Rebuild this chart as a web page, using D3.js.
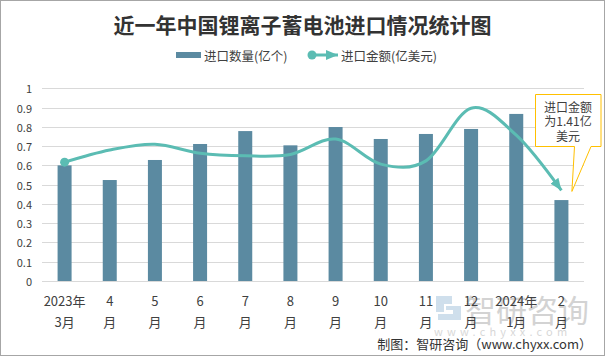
<!DOCTYPE html>
<html><head><meta charset="utf-8">
<script src="https://cdn.jsdelivr.net/npm/d3@7"></script>
<style>
html,body{margin:0;padding:0;background:#fff;}
svg{display:block;font-family:"Microsoft YaHei","Noto Sans CJK SC","Noto Sans",sans-serif;}
</style></head>
<body>
<svg id="c" width="605" height="356"></svg>
<script>
const categoriesTop = ["2023年","4","5","6","7","8","9","10","11","12","2024年","2"];
const categoriesBottom = ["3月","月","月","月","月","月","月","月","月","月","1月","月"];
const quantity = [0.60,0.524,0.628,0.711,0.778,0.704,0.799,0.737,0.763,0.789,0.867,0.42];
const amount = [1.85,2.04,2.13,1.99,1.95,1.97,2.21,1.82,1.87,2.69,2.27,1.41];
const yTicks = [0,0.1,0.2,0.3,0.4,0.5,0.6,0.7,0.8,0.9,1];
const yTickLabels = ["0","0.1","0.2","0.3","0.4","0.5","0.6","0.7","0.8","0.9","1"];
const legendLabels = ["进口数量(亿个)","进口金额(亿美元)"];
const calloutLines = ["进口金额","为1.41亿","美元"];
const title = "近一年中国锂离子蓄电池进口情况统计图";
const source = "制图：智研咨询（www.chyxx.com）";

const barColor = "#5b8aa1", lineColor = "#5bbcb3", textColor = "#404040", gridColor = "#d9d9d9";
const svg = d3.select("#c");
const idx = d3.range(categoriesTop.length);

const x = d3.scaleBand().domain(idx).range([42,584]).paddingInner(0.69).paddingOuter(0.345);
const y = d3.scaleLinear().domain([0,1]).range([281,88.3]);
const y2 = d3.scaleLinear().domain([0,3]).range([281,88.3]);

// border
svg.append("rect").attr("x",0.5).attr("y",0.5).attr("width",604).attr("height",355)
  .attr("fill","#fff").attr("stroke","#a6a6a6");

const defs = svg.append("defs");
defs.append("marker").attr("id","arr").attr("markerUnits","userSpaceOnUse")
  .attr("viewBox","0 0 12 10").attr("refX",12).attr("refY",5)
  .attr("markerWidth",12).attr("markerHeight",10).attr("orient","auto")
  .append("path").attr("d","M0,0 L12,5 L0,10 Z").attr("fill",lineColor);

// title
svg.append("text").attr("x",302.5).attr("y",24).attr("text-anchor","middle")
  .attr("dominant-baseline","central").attr("font-size",21).attr("font-weight","bold")
  .attr("fill","#333").text(title);

// legend
const lg = svg.append("g");
lg.append("rect").attr("x",176).attr("y",52).attr("width",25).attr("height",6).attr("fill",barColor);
lg.append("text").attr("x",204).attr("y",55).attr("dominant-baseline","central")
  .attr("font-size",12.5).attr("fill",textColor).text(legendLabels[0]);
lg.append("line").attr("x1",312).attr("x2",338).attr("y1",55).attr("y2",55)
  .attr("stroke",lineColor).attr("stroke-width",3).attr("marker-end","url(#arr)");
lg.append("circle").attr("cx",312).attr("cy",55).attr("r",4.5).attr("fill",lineColor);
lg.append("text").attr("x",341).attr("y",55).attr("dominant-baseline","central")
  .attr("font-size",12.5).attr("fill",textColor).text(legendLabels[1]);

// grid + y labels
const gy = svg.append("g");
gy.selectAll("line").data(yTicks).join("line")
  .attr("x1",42).attr("x2",584).attr("y1",d=>Math.round(y(d))+0.5).attr("y2",d=>Math.round(y(d))+0.5)
  .attr("stroke",gridColor).attr("stroke-width",1);
gy.selectAll("text").data(yTicks).join("text")
  .attr("x",32).attr("y",d=>y(d)).attr("text-anchor","end").attr("dominant-baseline","central")
  .attr("font-size",11).attr("fill",textColor).text((d,i)=>yTickLabels[i]);

// watermark
const wm = svg.append("g").attr("opacity",0.55);
wm.append("path").attr("d","M436,296 H452 V304 H444 V312 H436 Z M446,306 H461 V320 H438 V314 H453 V310 H446 Z")
  .attr("fill","#a9c6de");
wm.append("text").attr("x",465).attr("y",308).attr("dominant-baseline","central")
  .attr("font-size",31).attr("fill","#b0b0b0").text("智研咨询");
wm.append("text").attr("x",434).attr("y",331).attr("dominant-baseline","central")
  .attr("font-size",11).attr("letter-spacing",4.2).attr("fill","#b8b8b8").text("www.chyxx.com");

// bars
svg.append("g").selectAll("rect").data(quantity).join("rect")
  .attr("x",(d,i)=>x(i)).attr("width",x.bandwidth())
  .attr("y",d=>y(d)).attr("height",d=>y(0)-y(d)).attr("fill",barColor);

// x labels
const gx = svg.append("g");
gx.selectAll("text.t").data(idx).join("text").attr("class","t")
  .attr("x",i=>x(i)+x.bandwidth()/2).attr("y",300).attr("text-anchor","middle")
  .attr("dominant-baseline","central").attr("font-size",13).attr("fill",textColor)
  .text(i=>categoriesTop[i]);
gx.selectAll("text.b").data(idx).join("text").attr("class","b")
  .attr("x",i=>x(i)+x.bandwidth()/2).attr("y",321).attr("text-anchor","middle")
  .attr("dominant-baseline","central").attr("font-size",13).attr("fill",textColor)
  .text(i=>categoriesBottom[i]);

// line
const line = d3.line().x((d,i)=>x(i)+x.bandwidth()/2).y(d=>y2(d)).curve(d3.curveCardinal.tension(0));
svg.append("path").datum(amount).attr("d",line).attr("fill","none")
  .attr("stroke",lineColor).attr("stroke-width",3).attr("marker-end","url(#arr)");
svg.append("circle").attr("cx",x(0)+x.bandwidth()/2).attr("cy",y2(amount[0])).attr("r",4.5).attr("fill",lineColor);

// callout
const last = amount.length-1;
const tipX = x(last)+x.bandwidth()/2+10.5, tipY = y2(amount[last])+1;
svg.append("path")
  .attr("d",`M535.5,94.5 H601 V146.5 H591 L${tipX},${tipY} L574.5,146.5 H535.5 Z`)
  .attr("fill","#fff").attr("stroke","#ffc000").attr("stroke-width",1);
svg.append("g").selectAll("text").data(calloutLines).join("text")
  .attr("x",568).attr("y",(d,i)=>106+i*14.7).attr("text-anchor","middle")
  .attr("dominant-baseline","central").attr("font-size",12).attr("fill",textColor).text(d=>d);

// source
svg.append("text").attr("x",592).attr("y",343).attr("text-anchor","end")
  .attr("dominant-baseline","central").attr("font-size",13).attr("fill","#333").text(source);
</script>
</body></html>
